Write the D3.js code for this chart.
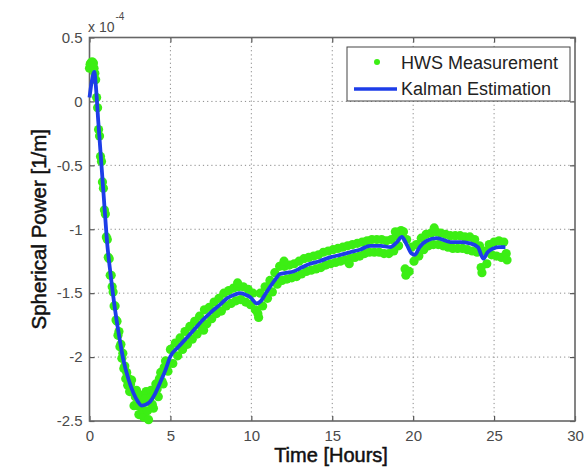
<!DOCTYPE html>
<html>
<head>
<meta charset="utf-8">
<script src="https://cdn.jsdelivr.net/npm/d3@7"></script>
<style>
  body { margin: 0; background: #fff; }
  svg text { font-family: "Liberation Sans", Arial, sans-serif; }
</style>
</head>
<body>
<script>
// Kalman estimate, time [h] and spherical power [x 1e-4 1/m]
var kalT = [0, 0.12, 0.3, 0.38, 0.55, 0.7, 0.9, 1.1, 1.3, 1.58, 1.85, 2.09, 2.4, 2.71, 3.0, 3.23, 3.5, 3.74, 4.0, 4.36, 4.7, 4.98,
  5.5, 6.0, 6.5, 7.0, 7.5, 8.07, 8.5, 9.0, 9.3, 9.6, 9.92, 10.33, 10.6, 10.9, 11.16, 11.5, 11.77, 12.2, 12.6, 13.1, 13.63,
  14.2, 14.86, 15.5, 16.1, 16.7, 17.34, 18.0, 18.58, 19.0, 19.3, 19.6, 19.9, 20.1, 20.4, 20.84, 21.46, 22.3, 22.9, 23.5,
  24.0, 24.34, 24.6, 24.96, 25.3, 25.7]
var kalV = [0.03, 0.14, 0.23, 0.14, -0.17, -0.43, -0.78, -1.12, -1.35, -1.63, -1.85, -2.02, -2.17, -2.28, -2.35, -2.38, -2.37, -2.35, -2.3, -2.2, -2.1, -2.0,
  -1.92, -1.85, -1.78, -1.71, -1.65, -1.59, -1.54, -1.51, -1.5, -1.51, -1.53, -1.58, -1.56, -1.5, -1.45, -1.39, -1.35, -1.34, -1.33, -1.3, -1.27,
  -1.25, -1.22, -1.2, -1.18, -1.16, -1.13, -1.13, -1.14, -1.1, -1.06, -1.12, -1.19, -1.2, -1.14, -1.09, -1.07, -1.1, -1.1, -1.11,
  -1.14, -1.23, -1.18, -1.15, -1.14, -1.14]

// HWS measurements [time, value]
var hws = [
  [0.00, 0.26], [0.04, 0.29], [0.08, 0.30], [0.12, 0.27], [0.16, 0.31], [0.20, 0.29], [0.24, 0.30], [0.28, 0.26],
  [0.33, 0.22], [0.38, 0.17], [0.44, 0.03], [0.50, -0.05], [0.56, -0.22], [0.62, -0.27], [0.68, -0.43], [0.74, -0.47],
  [0.80, -0.63], [0.86, -0.68], [0.92, -0.85], [0.98, -0.88], [1.04, -1.06], [1.10, -1.08], [1.16, -1.22], [1.22, -1.23],
  [1.28, -1.36], [1.34, -1.36], [1.40, -1.45], [1.46, -1.49], [1.52, -1.60], [1.58, -1.60], [1.64, -1.71], [1.70, -1.72],
  [1.76, -1.83], [1.82, -1.80], [1.88, -1.92], [1.94, -1.90], [2.00, -2.01], [2.06, -1.97], [2.12, -2.09], [2.18, -2.07],
  [2.24, -2.17], [2.30, -2.12], [2.36, -2.22], [2.42, -2.17], [2.48, -2.27], [2.54, -2.21],
  [2.60, -2.18], [2.75, -2.38], [2.90, -2.26], [3.05, -2.45], [3.20, -2.30], [3.35, -2.47], [3.50, -2.27], [3.65, -2.49],
  [3.80, -2.26], [3.95, -2.40], [4.10, -2.21], [4.25, -2.31], [4.40, -2.12], [4.55, -2.21], [4.70, -2.03], [4.85, -2.11],
  [5.00, -1.94], [5.15, -2.05], [5.30, -1.89], [5.45, -1.99], [5.60, -1.85], [5.75, -1.94], [5.90, -1.80], [6.05, -1.90],
  [6.20, -1.76], [6.35, -1.86], [6.50, -1.72], [6.65, -1.82], [6.80, -1.68], [6.95, -1.77], [7.10, -1.63], [7.25, -1.74],
  [7.40, -1.61], [7.55, -1.70], [7.70, -1.57], [7.85, -1.66], [8.00, -1.54], [8.15, -1.64], [8.30, -1.50], [8.45, -1.60],
  [8.60, -1.48], [8.75, -1.58], [8.90, -1.46], [9.05, -1.56], [9.20, -1.45], [9.35, -1.55], [9.50, -1.45], [9.65, -1.57],
  [9.80, -1.47], [9.95, -1.59], [10.10, -1.50], [10.25, -1.63], [10.40, -1.66], [10.55, -1.50], [10.70, -1.60], [10.85, -1.45],
  [11.00, -1.54], [11.15, -1.40], [11.30, -1.49], [11.45, -1.34], [11.60, -1.43], [11.75, -1.29], [11.90, -1.40], [12.05, -1.29],
  [12.20, -1.39], [12.35, -1.28], [12.50, -1.38], [12.65, -1.27], [12.80, -1.37], [12.95, -1.25], [13.10, -1.35], [13.25, -1.23],
  [13.40, -1.33], [13.55, -1.22], [13.70, -1.32], [13.85, -1.21], [14.00, -1.31], [14.15, -1.20], [14.30, -1.30], [14.45, -1.18],
  [14.60, -1.28], [14.75, -1.17], [14.90, -1.27], [15.05, -1.16], [15.20, -1.26], [15.35, -1.15], [15.50, -1.25], [15.65, -1.14],
  [15.80, -1.24], [15.95, -1.13], [16.10, -1.23], [16.25, -1.12], [16.40, -1.22], [16.55, -1.11], [16.70, -1.21], [16.85, -1.10],
  [17.00, -1.19], [17.15, -1.09], [17.30, -1.18], [17.45, -1.08], [17.60, -1.18], [17.75, -1.08], [17.90, -1.18], [18.05, -1.08],
  [18.20, -1.19], [18.35, -1.09], [18.50, -1.19], [18.65, -1.08], [18.80, -1.17], [18.95, -1.05], [19.10, -1.13], [19.25, -1.01],
  [19.40, -1.02], [19.50, -1.31], [19.60, -1.08], [19.75, -1.33], [19.90, -1.14], [20.05, -1.25], [20.20, -1.12], [20.35, -1.21],
  [20.50, -1.07], [20.65, -1.16], [20.80, -1.04], [20.95, -1.13], [21.10, -1.03], [21.25, -1.12], [21.40, -1.02], [21.55, -1.12],
  [21.70, -1.03], [21.85, -1.13], [22.00, -1.04], [22.15, -1.14], [22.30, -1.05], [22.45, -1.15], [22.60, -1.05], [22.75, -1.15],
  [22.90, -1.05], [23.05, -1.15], [23.20, -1.06], [23.35, -1.16], [23.50, -1.06], [23.65, -1.17], [23.80, -1.08], [23.95, -1.18],
  [24.10, -1.13], [24.25, -1.34], [24.40, -1.17], [24.55, -1.27], [24.70, -1.12], [24.85, -1.20], [25.00, -1.10], [25.15, -1.21],
  [25.30, -1.09], [25.45, -1.22], [25.60, -1.10], [25.75, -1.19],
  // readings inside the trough and a few stragglers
  [2.68, -2.27], [2.83, -2.31], [2.98, -2.38], [3.12, -2.36], [3.28, -2.41], [3.42, -2.33], [3.58, -2.42], [3.72, -2.32],
  [3.88, -2.37], [4.02, -2.28], [4.18, -2.25], [4.32, -2.17], [4.48, -2.19], [4.62, -2.08], [4.78, -2.07],
  [7.05, -1.79], [9.15, -1.42], [10.45, -1.69], [12.02, -1.25], [16.05, -1.27], [18.9, -1.02], [19.55, -1.36],
  [21.3, -0.99], [24.2, -1.30], [25.8, -1.24]
]

var xTicks = [0, 5, 10, 15, 20, 25, 30]
var yTicks = [0.5, 0, -0.5, -1, -1.5, -2, -2.5]
var seriesNames = ["HWS Measurement", "Kalman Estimation"]

var W = 586, H = 467
var pL = 89.5, pR = 575, pT = 37.5, pB = 421

var x = d3.scaleLinear().domain([0, 30]).range([pL, pR])
var y = d3.scaleLinear().domain([-2.5, 0.5]).range([pB, pT])

var svg = d3.select("body").append("svg")
    .attr("width", W)
    .attr("height", H)

svg.append("rect").attr("width", W).attr("height", H).attr("fill", "#fff")

// dotted grid
var grid = svg.append("g").attr("class", "grid")
grid.selectAll(".gx")
    .data(xTicks.slice(1, -1))
    .enter().append("line")
    .attr("x1", function(d) { return x(d) }).attr("x2", function(d) { return x(d) })
    .attr("y1", pT).attr("y2", pB)
grid.selectAll(".gy")
    .data(yTicks.slice(1, -1))
    .enter().append("line")
    .attr("y1", function(d) { return y(d) }).attr("y2", function(d) { return y(d) })
    .attr("x1", pL).attr("x2", pR)
grid.selectAll("line")
    .attr("stroke", "#8a8a8a")
    .attr("stroke-width", 1)
    .attr("stroke-dasharray", "1.2,3")

// axes
function styleAxis(g, labels) {
  g.select(".domain").remove()
  g.selectAll(".tick line").attr("stroke", "#555").attr("stroke-width", 1.2)
  g.selectAll(".tick text")
      .attr("fill", "#4a4a4a")
      .style("font-size", labels ? "15px" : "0px")
      .style("font-family", "'Liberation Sans', Arial, sans-serif")
}

svg.append("g")
    .attr("transform", "translate(0," + pB + ")")
    .call(d3.axisBottom(x).tickValues(xTicks).tickSize(-5).tickPadding(9).tickFormat(function(d) { return String(d) }))
    .call(styleAxis, true)
svg.append("g")
    .attr("transform", "translate(0," + pT + ")")
    .call(d3.axisTop(x).tickValues(xTicks).tickSize(-5).tickFormat(""))
    .call(styleAxis, false)
svg.append("g")
    .attr("transform", "translate(" + pL + ",0)")
    .call(d3.axisLeft(y).tickValues(yTicks).tickSize(-5).tickPadding(7).tickFormat(function(d) { return String(d) }))
    .call(styleAxis, true)
svg.append("g")
    .attr("transform", "translate(" + pR + ",0)")
    .call(d3.axisRight(y).tickValues(yTicks).tickSize(-5).tickFormat(""))
    .call(styleAxis, false)

// frame
svg.append("rect")
    .attr("x", pL).attr("y", pT)
    .attr("width", pR - pL).attr("height", pB - pT)
    .attr("fill", "none")
    .attr("stroke", "#666")
    .attr("stroke-width", 1.6)

// measurements
var green = "#3cee14", blue = "#1d3de8"
svg.append("g").selectAll("circle")
    .data(hws)
    .enter().append("circle")
    .attr("cx", function(d) { return x(d[0]) })
    .attr("cy", function(d) { return y(d[1]) })
    .attr("r", 4.6)
    .attr("fill", green)

// kalman line
var line = d3.line()
    .x(function(d, i) { return x(kalT[i]) })
    .y(function(d) { return y(d) })
    .curve(d3.curveMonotoneX)
svg.append("path")
    .attr("d", line(kalV))
    .attr("fill", "none")
    .attr("stroke", blue)
    .attr("stroke-width", 3.8)
    .attr("stroke-linejoin", "round")

// exponent label
var ex = svg.append("text")
    .attr("x", 88).attr("y", 32)
    .attr("fill", "#4a4a4a")
    .style("font-size", "14px")
    .text("x 10")
ex.append("tspan")
    .attr("dx", 1).attr("dy", -12)
    .style("font-size", "10px")
    .text("-4")

// axis titles
svg.append("text")
    .attr("x", 331).attr("y", 461.5)
    .attr("text-anchor", "middle")
    .attr("fill", "#111")
    .attr("stroke", "#111").attr("stroke-width", 0.5)
    .style("font-size", "20px")
    .text("Time [Hours]")
svg.append("text")
    .attr("transform", "translate(46," + (pT + pB) / 2 + ") rotate(-90)")
    .attr("text-anchor", "middle")
    .attr("fill", "#111")
    .attr("stroke", "#111").attr("stroke-width", 0.5)
    .style("font-size", "20.5px")
    .text("Spherical Power [1/m]")

// legend
var lg = svg.append("g")
lg.append("rect")
    .attr("x", 347).attr("y", 47)
    .attr("width", 223).attr("height", 54)
    .attr("fill", "#fff")
    .attr("stroke", "#444")
    .attr("stroke-width", 1)
lg.append("circle").attr("cx", 377).attr("cy", 62).attr("r", 3).attr("fill", green)
lg.append("line")
    .attr("x1", 354).attr("x2", 397).attr("y1", 89).attr("y2", 89)
    .attr("stroke", blue).attr("stroke-width", 3.5)
lg.selectAll("text")
    .data(seriesNames)
    .enter().append("text")
    .attr("x", 401)
    .attr("y", function(d, i) { return 68.5 + i * 26 })
    .attr("fill", "#222")
    .style("font-size", "18px")
    .text(function(d) { return d })
</script>
</body>
</html>
